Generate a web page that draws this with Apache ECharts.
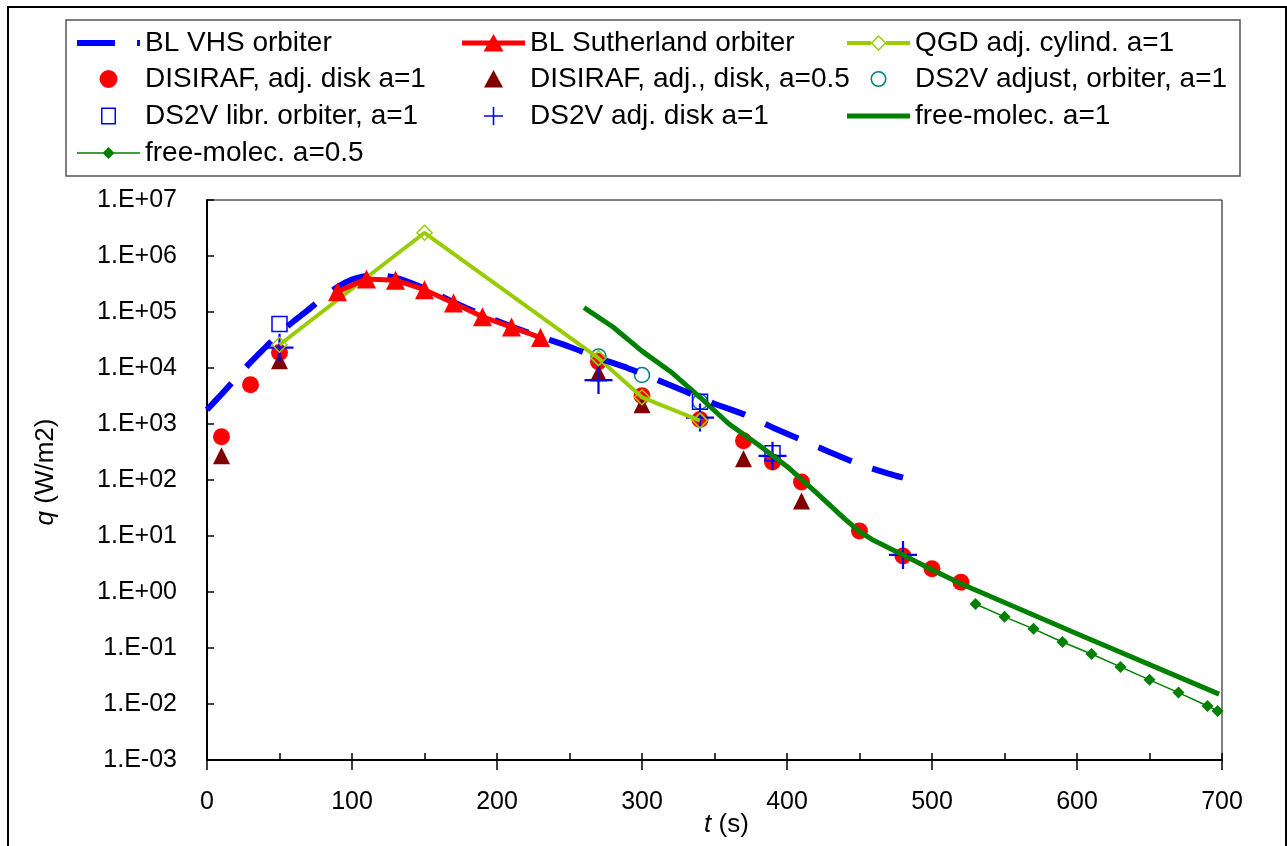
<!DOCTYPE html>
<html>
<head>
<meta charset="utf-8">
<script src="https://cdn.jsdelivr.net/npm/echarts@6/dist/echarts.min.js"></script>
<style>
  html, body { margin: 0; padding: 0; background: #fff; }
  #chart { width: 1287px; height: 846px; }
</style>
</head>
<body>
<div id="chart"></div>
<script>
// t (s) and q (W/m2)
const vhsT = [0, 10, 20, 30, 40, 50, 60, 70, 80, 90, 100, 110, 120, 130, 150, 170, 190, 210, 230, 250, 270, 290, 310, 330, 350, 370, 390, 410, 430, 450, 470, 480]
const vhsQ = [1800, 3400, 6600, 12600, 23000, 42000, 69000, 110000, 180000, 280000, 380000, 440000, 450000, 410000, 265000, 150000, 88000, 55000, 36000, 24000, 15000, 10000, 6200, 3800, 2300, 1500, 870, 520, 310, 190, 130, 110]

const suthT = [90, 110, 130, 150, 170, 190, 210, 230]
const suthQ = [230000, 390000, 370000, 250000, 145000, 82000, 54000, 35000]

const qgdT = [50, 150, 270, 300, 340]
const qgdQ = [26000, 2600000, 15000, 3000, 1150]

const disT = [10, 30, 50, 270, 300, 340, 370, 390, 410, 450, 480, 500, 520]
const disQ = [590, 5000, 19000, 13000, 3200, 1200, 500, 210, 92, 12.3, 4.4, 2.6, 1.5]

const dis05T = [10, 50, 270, 300, 370, 410]
const dis05Q = [270, 13500, 8100, 2200, 240, 42]

const ds2vOrbT = [270, 300, 340]
const ds2vOrbQ = [16000, 7500, 2500]

const ds2vLibT = [50, 340, 390]
const ds2vLibQ = [61000, 2500, 300]

const ds2vDiskT = [50, 270, 340, 390, 480]
const ds2vDiskQ = [23000, 6100, 1300, 270, 4.6]

const fm1T = [260, 280, 300, 320, 340, 360, 380, 400, 420, 440, 450, 460, 480, 500, 520, 600, 698]
const fm1Q = [120000, 54000, 20000, 8500, 3000, 1000, 430, 175, 60, 20, 12, 8.3, 4.6, 2.5, 1.4, 0.18, 0.015]

const fm05T = [530, 550, 570, 590, 610, 630, 650, 670, 690, 697]
const fm05Q = [0.61, 0.36, 0.22, 0.128, 0.078, 0.046, 0.027, 0.016, 0.0092, 0.0075]

const xTicks = [0, 700, 100]
const yRange = [1e-3, 1e7]

const pairs = (t, q) => t.map((v, i) => [v, q[i]])
const FONT = '"Liberation Sans", Arial, sans-serif'
const plusPath = 'path://M4.6,0 H5.4 V4.6 H10 V5.4 H5.4 V10 H4.6 V5.4 H0 V4.6 H4.6 Z'

// legend icons, each drawn in a 63x18 box (tiny corner marks fix the box)
const box = 'M0,0 L0.01,0 L0,0.01 Z M63,18 L62.99,18 L63,17.99 Z '
const icons = {
    'BL VHS orbiter': 'M0,6 H38 V12 H0 Z M60,6 H63 V12 H60 Z',
    'BL Sutherland orbiter': 'M0,6.5 H63 V11.5 H0 Z M31.5,0 L41.5,17.5 L21.5,17.5 Z',
    'QGD adj. cylind. a=1': 'M0,7 H24 V11 H0 Z M39,7 H63 V11 H39 Z M31.5,1 L39.5,9 L31.5,17 L23.5,9 Z M31.5,3 L25.5,9 L31.5,15 L37.5,9 Z',
    'DISIRAF, adj. disk a=1': 'M22.5,9 A9,9 0 1,1 40.5,9 A9,9 0 1,1 22.5,9 Z',
    'DISIRAF, adj., disk, a=0.5': 'M31.5,0 L41,17.5 L22,17.5 Z',
    'DS2V adjust, orbiter, a=1': 'M23.5,9 A8,8 0 1,1 39.5,9 A8,8 0 1,1 23.5,9 Z M25,9 A6.5,6.5 0 1,0 38,9 A6.5,6.5 0 1,0 25,9 Z',
    'DS2V libr. orbiter, a=1': 'M24,0.5 H39 V17.5 H24 Z M25.5,2 V16 H37.5 V2 Z',
    'DS2V adj. disk a=1': 'M30.7,0 H32.3 V8.2 H41 V9.8 H32.3 V18 H30.7 V9.8 H22 V8.2 H30.7 Z',
    'free-molec. a=1': 'M0,6.5 H63 V11.5 H0 Z',
    'free-molec. a=0.5': 'M0,8.2 H63 V9.8 H0 Z M31.5,3 L37.5,9 L31.5,15 L25.5,9 Z'
}
const iconColors = {
    'QGD adj. cylind. a=1': '#99CC00',
    'DS2V adjust, orbiter, a=1': '#008080',
    'DS2V libr. orbiter, a=1': '#0000FF'
}

const names = Object.keys(icons)
const rowY = [40, 76, 113, 150]
const colX = [77, 462, 847]

const legends = names.map((n, i) => ({
    data: [{
        name: n,
        icon: 'path://' + box + icons[n],
        itemStyle: iconColors[n] ? { color: iconColors[n], borderWidth: 0 } : { borderWidth: 0 }
    }],
    left: colX[i % 3],
    top: rowY[Math.floor(i / 3)] - 11,
    padding: 0,
    itemWidth: 63,
    itemHeight: 18,
    itemGap: 0,
    selectedMode: false,
    itemStyle: { borderWidth: 0 },
    textStyle: { fontFamily: FONT, fontSize: 28, color: '#000' }
}))

const chart = echarts.init(document.getElementById('chart'))
chart.setOption({
    animation: false,
    backgroundColor: '#fff',
    legend: legends,
    graphic: [
        { type: 'rect', shape: { x: 8, y: 7, width: 1278, height: 845 }, style: { fill: 'none', stroke: '#000', lineWidth: 2 }, silent: true },
        { type: 'rect', shape: { x: 66, y: 20, width: 1174, height: 156 }, style: { fill: 'none', stroke: '#555', lineWidth: 1.5 }, silent: true }
    ],
    grid: {
        left: 207, top: 200, right: 65, bottom: 86,
        outerBoundsMode: 'none',
        show: true, borderColor: '#000', borderWidth: 1
    },
    xAxis: [{
        type: 'value',
        min: xTicks[0], max: xTicks[1], interval: xTicks[2],
        axisLine: { lineStyle: { color: '#000', width: 2 } },
        axisTick: { length: 10, lineStyle: { color: '#000', width: 1.5 } },
        splitLine: { show: false },
        axisLabel: { fontFamily: FONT, fontSize: 25, color: '#000', margin: 30 },
        name: '{i|t} (s)',
        nameLocation: 'middle',
        nameGap: 52,
        nameMoveOverlap: false,
        nameTextStyle: {
            fontFamily: FONT, fontSize: 26, color: '#000', padding: [0, 0, 0, 24],
            rich: { i: { fontFamily: FONT, fontSize: 26, fontStyle: 'italic', color: '#000' } }
        }
    }, {
        type: 'value',
        position: 'bottom',
        min: xTicks[0], max: xTicks[1], interval: xTicks[2],
        axisLine: { show: false },
        axisTick: { inside: true, length: 7, lineStyle: { color: '#000', width: 1.5 } },
        minorTick: { show: true, splitNumber: 2, length: 7, lineStyle: { color: '#000', width: 1.5 } },
        axisLabel: { show: false },
        splitLine: { show: false }
    }],
    yAxis: {
        type: 'log',
        logBase: 10,
        min: yRange[0], max: yRange[1], interval: 1,
        axisLine: { show: true, lineStyle: { color: '#000', width: 2 } },
        axisTick: { show: true, inside: true, length: 7, lineStyle: { color: '#000', width: 1.5 } },
        splitLine: { show: false },
        axisLabel: {
            fontFamily: FONT, fontSize: 25, color: '#000', margin: 30,
            formatter: v => {
                const e = Math.round(Math.log10(v))
                return '1.E' + (e < 0 ? '-' : '+') + String(Math.abs(e)).padStart(2, '0')
            }
        },
        name: '{i|q} (W/m2)',
        nameLocation: 'middle',
        nameRotate: 90,
        nameGap: 148,
        nameTextStyle: {
            fontFamily: FONT, fontSize: 26, color: '#000', padding: [0, 0, 0, 16],
            rich: { i: { fontFamily: FONT, fontSize: 26, fontStyle: 'italic', color: '#000' } }
        }
    },
    series: [
        {
            name: 'QGD adj. cylind. a=1', type: 'line', data: pairs(qgdT, qgdQ),
            lineStyle: { color: '#99CC00', width: 4 },
            symbol: 'diamond', symbolSize: 15, showAllSymbol: true,
            itemStyle: { color: 'rgba(0,0,0,0)', borderColor: '#99CC00', borderWidth: 1.5 }
        },
        {
            name: 'free-molec. a=0.5', type: 'line', data: pairs(fm05T, fm05Q),
            lineStyle: { color: '#008000', width: 1.5 },
            symbol: 'diamond', symbolSize: 12, showAllSymbol: true,
            itemStyle: { color: '#008000' }
        },
        {
            name: 'free-molec. a=1', type: 'line', data: pairs(fm1T, fm1Q),
            lineStyle: { color: '#008000', width: 5 },
            symbol: 'none', itemStyle: { color: '#008000' }
        },
        {
            name: 'BL VHS orbiter', type: 'line', data: pairs(vhsT, vhsQ), smooth: 0.2,
            lineStyle: { color: '#0000FF', width: 6, type: [36, 22] },
            symbol: 'none', itemStyle: { color: '#0000FF' }
        },
        {
            name: 'BL Sutherland orbiter', type: 'line', data: pairs(suthT, suthQ),
            lineStyle: { color: '#FF0000', width: 5 },
            symbol: 'triangle', symbolSize: 19, showAllSymbol: true,
            itemStyle: { color: '#FF0000' }
        },
        {
            name: 'DISIRAF, adj. disk a=1', type: 'scatter', data: pairs(disT, disQ),
            symbol: 'circle', symbolSize: 17, itemStyle: { color: '#FF0000', opacity: 1 }
        },
        {
            name: 'DISIRAF, adj., disk, a=0.5', type: 'scatter', data: pairs(dis05T, dis05Q),
            symbol: 'triangle', symbolSize: 17, itemStyle: { color: '#800000', opacity: 1 }
        },
        {
            name: 'DS2V adjust, orbiter, a=1', type: 'scatter', data: pairs(ds2vOrbT, ds2vOrbQ),
            symbol: 'circle', symbolSize: 15,
            itemStyle: { color: 'rgba(0,0,0,0)', borderColor: '#008080', borderWidth: 1.5, opacity: 1 }
        },
        {
            name: 'DS2V libr. orbiter, a=1', type: 'scatter', data: pairs(ds2vLibT, ds2vLibQ),
            symbol: 'rect', symbolSize: 15,
            itemStyle: { color: 'rgba(0,0,0,0)', borderColor: '#0000FF', borderWidth: 1.5, opacity: 1 }
        },
        {
            name: 'DS2V adj. disk a=1', type: 'scatter', data: pairs(ds2vDiskT, ds2vDiskQ),
            symbol: plusPath, symbolSize: 28, itemStyle: { color: '#0000FF', opacity: 1 }
        }
    ]
})
</script>
</body>
</html>
